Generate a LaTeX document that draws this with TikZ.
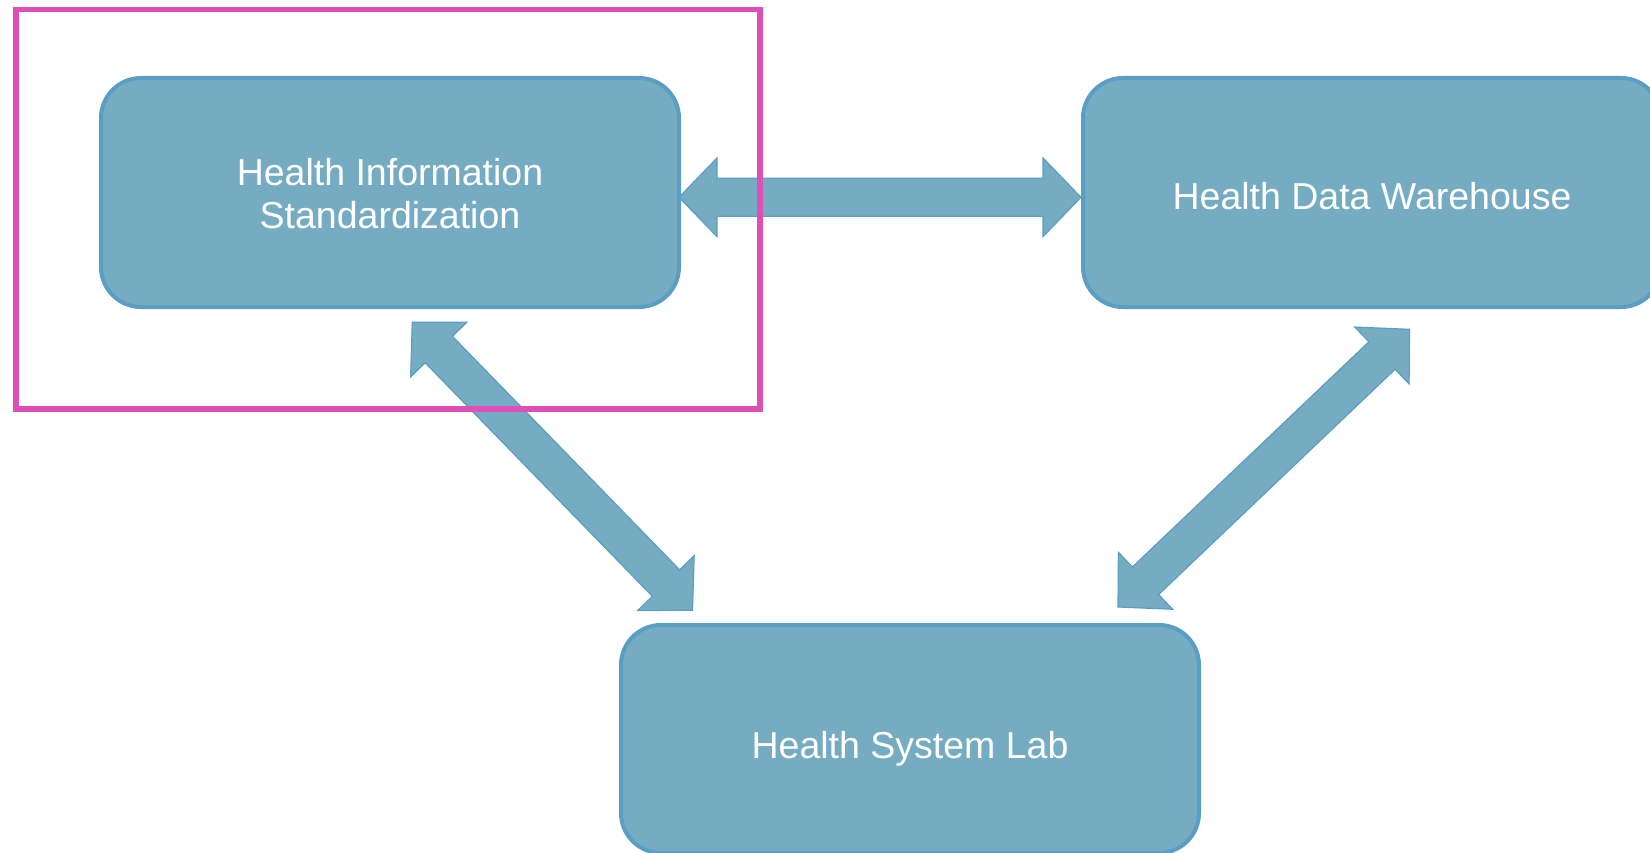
\documentclass[tikz,border=0pt]{standalone}
\usepackage{fontspec}
\setmainfont{Liberation Sans}
\usetikzlibrary{calc}
\definecolor{boxfill}{HTML}{75ACC1}
\definecolor{boxline}{HTML}{5B9EC4}
\definecolor{framepink}{HTML}{DE50B7}
\tikzset{
  infobox/.style={draw=boxline, fill=boxfill, line width=4pt, rounded corners=40pt,
    minimum width=578pt, minimum height=229pt, inner sep=0pt},
  boxtext/.style={text=white, font=\fontsize{37.5}{43.5}\selectfont, align=center, inner sep=0pt},
  blockarrowstyle/.style={draw=boxline, fill=boxfill, line width=1.2pt, line join=miter},
  framestyle/.style={draw=framepink, line width=5.5pt}
}
% block double arrow between two named coordinates
\newcommand\blockarrow[2]{%
  \draw[blockarrowstyle] let \p1=($(#2)-(#1)$), \n1={atan2(\y1,\x1)}, \n2={veclen(\x1,\y1)} in
    ([shift={(#1)},rotate=\n1]0pt,0pt)
    -- ([shift={(#1)},rotate=\n1]38pt,39.3pt)
    -- ([shift={(#1)},rotate=\n1]38pt,19pt)
    -- ([shift={(#1)},rotate=\n1]{\n2-38pt},19pt)
    -- ([shift={(#1)},rotate=\n1]{\n2-38pt},39.3pt)
    -- ([shift={(#1)},rotate=\n1]\n2,0pt)
    -- ([shift={(#1)},rotate=\n1]{\n2-38pt},-39.3pt)
    -- ([shift={(#1)},rotate=\n1]{\n2-38pt},-19pt)
    -- ([shift={(#1)},rotate=\n1]38pt,-19pt)
    -- ([shift={(#1)},rotate=\n1]38pt,-39.3pt)
    -- cycle;}
\begin{document}
\begin{tikzpicture}[x=1pt,y=-1pt]
\useasboundingbox (0,0) rectangle (1650,853);
\clip (0,0) rectangle (1650,853);

% boxes
\node[infobox] (his) at (390,192.5) {};
\node[infobox] (hdw) at (1372,192.5) {};
\node[infobox, minimum height=228pt] (hsl) at (910,739) {};

% texts
\node[boxtext] (hist) at (390,193.5) {Health Information\\Standardization};
\node[boxtext, text depth=0pt] (hdwt) at (1372,196) {Health Data Warehouse};
\node[boxtext, text depth=0pt] (hslt) at (910,745) {Health System Lab};

% arrow ends
\coordinate (a1) at (679,197.3);
\coordinate (b1) at (1081,197.3);
\coordinate (a2) at (412.3,322.3);
\coordinate (b2) at (692.5,610.3);
\coordinate (a3) at (1118,607);
\coordinate (b3) at (1409.5,329.3);

\blockarrow{a1}{b1}
\blockarrow{a2}{b2}
\blockarrow{a3}{b3}

% highlight frame
\draw[framestyle] (16,9.3) rectangle (760,409);
\end{tikzpicture}
\end{document}
